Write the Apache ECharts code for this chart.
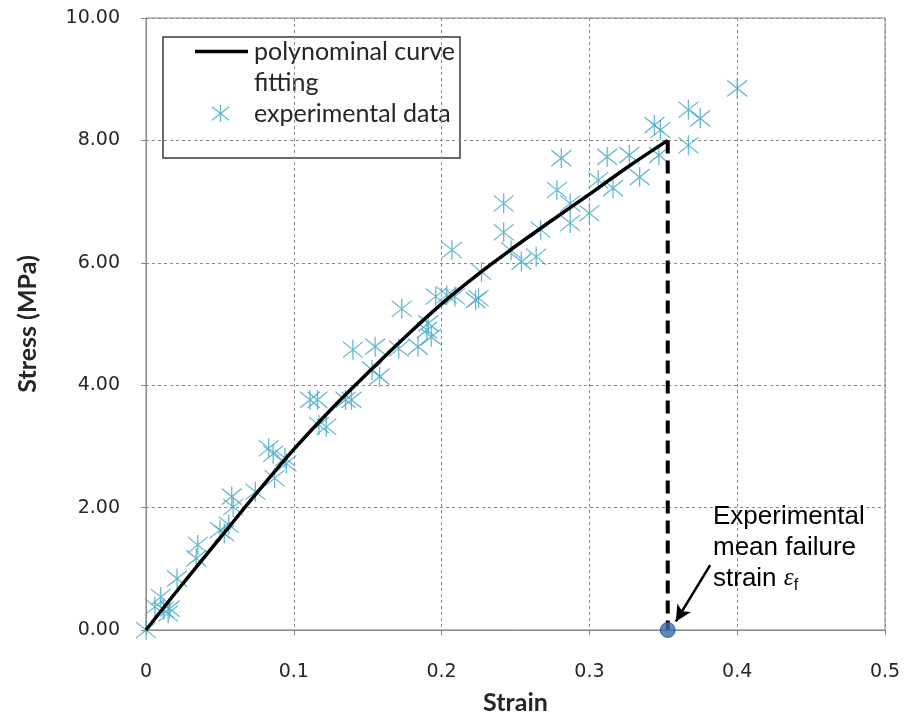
<!DOCTYPE html>
<html>
<head>
<meta charset="utf-8">
<script src="https://cdn.jsdelivr.net/npm/echarts@6/dist/echarts.min.js"></script>
<style>
  html, body { margin: 0; padding: 0; background: #ffffff; }
  #chart { width: 905px; height: 713px; }
</style>
</head>
<body>
<div id="chart"></div>
<script>
// Tensile test: measured stress-strain points
const expStrain = [0, 0.006, 0.010, 0.012, 0.015, 0.016, 0.021, 0.034, 0.035, 0.050,
  0.053, 0.056, 0.058, 0.059, 0.074, 0.083, 0.086, 0.087, 0.094, 0.095,
  0.111, 0.116, 0.117, 0.122, 0.135, 0.139, 0.140, 0.153, 0.155, 0.158,
  0.171, 0.173, 0.184, 0.190, 0.191, 0.193, 0.196, 0.2035, 0.207, 0.209,
  0.223, 0.225, 0.227, 0.242, 0.242, 0.247, 0.254, 0.264, 0.267, 0.278,
  0.281, 0.287, 0.287, 0.300, 0.306, 0.312, 0.316, 0.327, 0.334, 0.344,
  0.348, 0.347, 0.367, 0.375, 0.367, 0.400];
const expStress = [0, 0.38, 0.54, 0.33, 0.27, 0.35, 0.84, 1.17, 1.39, 1.63,
  1.58, 1.72, 2.18, 2.01, 2.26, 2.97, 2.88, 2.48, 2.81, 2.72,
  3.76, 3.76, 3.35, 3.32, 3.76, 3.76, 4.58, 4.25, 4.63, 4.14,
  4.60, 5.25, 4.63, 4.90, 5.01, 4.79, 5.45, 5.47, 6.21, 5.45,
  5.39, 5.42, 5.85, 6.97, 6.50, 6.20, 6.02, 6.10, 6.54, 7.19,
  7.71, 6.97, 6.65, 6.81, 7.35, 7.73, 7.22, 7.76, 7.40, 8.25,
  8.17, 7.76, 8.50, 8.36, 7.92, 8.85];

// Polynomial fit, sampled along the strain range
const fitStrain = [0, 0.025, 0.05, 0.075, 0.1, 0.125, 0.15, 0.175, 0.2, 0.225, 0.25, 0.275, 0.3, 0.325, 0.353];
const fitStress = [0, 0.76, 1.5, 2.24, 2.95, 3.6, 4.2, 4.78, 5.33, 5.82, 6.27, 6.7, 7.12, 7.55, 8.0];

// Mean failure strain and the fitted stress reached there
const failureStrain = [0.353];
const failureStress = [8.0];

const xTickLabels = ['0', '0.1', '0.2', '0.3', '0.4', '0.5'];
const yTickLabels = ['0.00', '2.00', '4.00', '6.00', '8.00', '10.00'];

const fitName = 'polynominal curve\nfitting';
const expName = 'experimental data';

const zip = (a, b) => a.map((v, i) => [v, b[i]]);

// six-armed star marker: an X crossed by a vertical bar
const starPath = 'M0 1.2L20 17.2L20 18.8L0 2.8Z M0 17.2L20 1.2L20 2.8L0 18.8Z M9.35 0L10.65 0L10.65 20L9.35 20Z';
const starColor = '#4bacc6';

const chart = echarts.init(document.getElementById('chart'), null, { renderer: 'canvas' });

const tickFont = { fontFamily: 'DejaVu Sans', fontSize: 19, color: '#262626' };
const titleFont = { fontFamily: 'Lato', fontWeight: 'bold', fontSize: 25, color: '#262626' };
const legendFont = 'Lato';

// legend star icon drawn as three strokes around (cx, cy)
function legendStar(cx, cy, r) {
  const s = { stroke: starColor, lineWidth: 1.3, opacity: 0.85 };
  return [
    { type: 'line', shape: { x1: cx - r, y1: cy - r * 0.8, x2: cx + r, y2: cy + r * 0.8 }, style: s },
    { type: 'line', shape: { x1: cx - r, y1: cy + r * 0.8, x2: cx + r, y2: cy - r * 0.8 }, style: s },
    { type: 'line', shape: { x1: cx, y1: cy - r, x2: cx, y2: cy + r }, style: s }
  ];
}

chart.setOption({
  animation: false,
  backgroundColor: '#ffffff',
  grid: {
    left: 146, right: 20, top: 18, bottom: 83,
    outerBoundsMode: 'none', containLabel: false,
    show: true, borderColor: '#858585', borderWidth: 1, backgroundColor: 'transparent'
  },
  xAxis: {
    type: 'value', min: 0, max: 0.5, interval: 0.1,
    name: 'Strain', nameLocation: 'middle', nameGap: 60, nameTextStyle: titleFont,
    axisLine: { show: true, onZero: false, lineStyle: { color: '#858585', width: 1 } },
    axisTick: { show: true, inside: false, length: 5, lineStyle: { color: '#858585' } },
    axisLabel: { ...tickFont, margin: 33, formatter: (v, i) => xTickLabels[i] },
    splitLine: { show: true, lineStyle: { color: '#8a8a8a', type: [3, 3], width: 1 } }
  },
  yAxis: {
    type: 'value', min: 0, max: 10, interval: 2,
    name: 'Stress (MPa)', nameLocation: 'middle', nameGap: 106, nameTextStyle: titleFont,
    axisLine: { show: true, onZero: false, lineStyle: { color: '#858585', width: 1 } },
    axisTick: { show: true, inside: false, length: 5, lineStyle: { color: '#858585' } },
    axisLabel: { ...tickFont, margin: 26, formatter: (v, i) => yTickLabels[i] },
    splitLine: { show: true, lineStyle: { color: '#8a8a8a', type: [3, 3], width: 1 } }
  },
  graphic: [
    // legend box
    {
      type: 'group', x: 163, y: 37, z: 50,
      children: [
        {
          type: 'rect', shape: { x: 0, y: 0, width: 297, height: 121 },
          style: { fill: '#ffffff', stroke: '#3a3a3a', lineWidth: 1.5 }
        },
        {
          type: 'line', shape: { x1: 32, y1: 14.5, x2: 85, y2: 14.5 },
          style: { stroke: '#000000', lineWidth: 3.5 }
        },
        ...legendStar(57.5, 76.5, 8.5),
        {
          type: 'text', x: 91, y: -1,
          style: { text: fitName, fontFamily: legendFont, fontSize: 25, lineHeight: 31.5, fill: '#262626' }
        },
        {
          type: 'text', x: 91, y: 61,
          style: { text: expName, fontFamily: legendFont, fontSize: 25, lineHeight: 31.5, fill: '#262626' }
        }
      ]
    },
    // failure strain note
    {
      type: 'text',
      x: 713, y: 501, z: 50,
      style: {
        text: 'Experimental\nmean failure\nstrain {eps|ε}{sub|f}',
        fontFamily: 'Liberation Sans', fontSize: 26, lineHeight: 31, fill: '#000000',
        rich: {
          eps: { fontFamily: 'Liberation Serif', fontStyle: 'italic', fontSize: 25, fill: '#000000', lineHeight: 31 },
          sub: { fontFamily: 'Liberation Sans', fontSize: 16, fill: '#000000', verticalAlign: 'bottom', padding: [10, 0, 0, 0], lineHeight: 31 }
        }
      }
    }
  ],
  series: [
    {
      name: expName,
      type: 'scatter',
      data: zip(expStrain, expStress),
      symbol: 'path://' + starPath,
      symbolSize: [20, 20],
      itemStyle: { color: starColor, opacity: 0.85 },
      z: 2
    },
    {
      name: fitName,
      type: 'line',
      data: zip(fitStrain, fitStress),
      smooth: 0.4,
      symbol: 'none',
      lineStyle: { color: '#000000', width: 3.5 },
      z: 3
    },
    {
      name: 'failure drop',
      type: 'line',
      data: [[failureStrain[0], failureStress[0]], [failureStrain[0], 0]],
      symbol: 'none',
      lineStyle: { color: '#000000', width: 4, type: [13, 7] },
      z: 3
    },
    {
      name: 'failure strain',
      type: 'scatter',
      data: [[failureStrain[0], 0]],
      symbol: 'circle',
      symbolSize: 15,
      itemStyle: { color: '#3a6aab', borderColor: '#2c5690', borderWidth: 1 },
      z: 4,
      markLine: {
        silent: true,
        symbol: ['none', 'arrow'],
        symbolSize: [12, 16],
        label: { show: false },
        lineStyle: { color: '#000000', width: 2.5, type: 'solid' },
        data: [[{ coord: [0.3817, 1.06] }, { coord: [0.3585, 0.14] }]]
      }
    }
  ]
});
</script>
</body>
</html>
